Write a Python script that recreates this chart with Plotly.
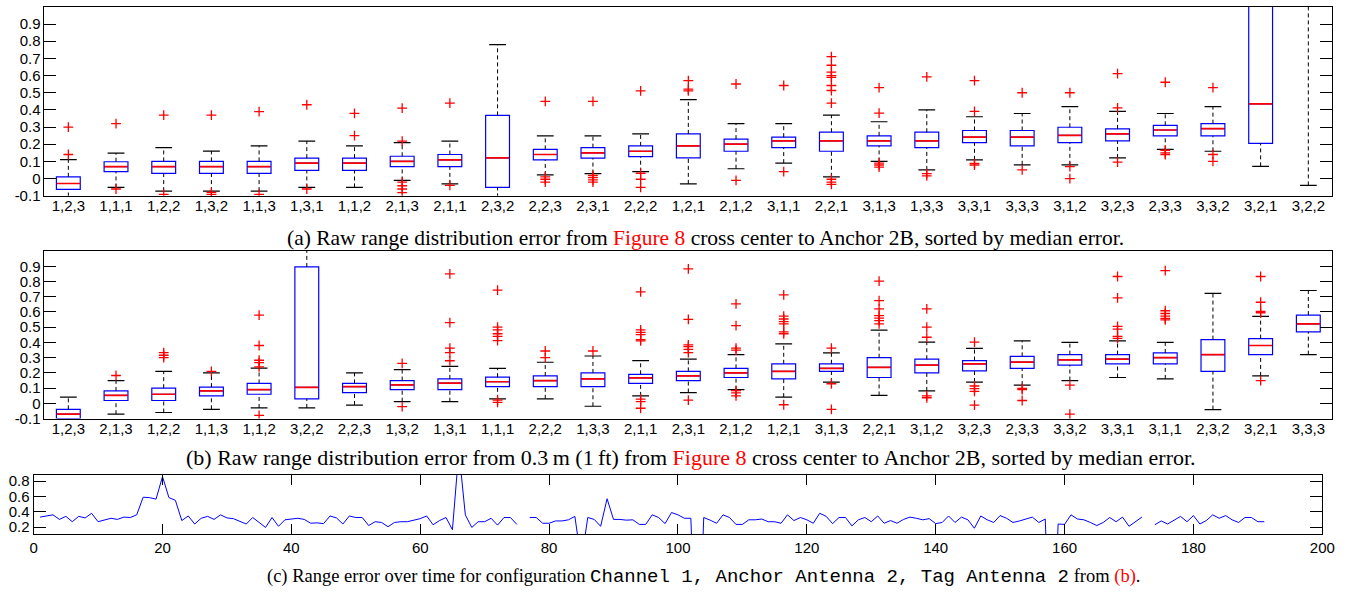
import plotly.graph_objects as go

# ---------------- Panel (a) ----------------
cats_a = ["1,2,3","1,1,1","1,2,2","1,3,2","1,1,3","1,3,1","1,1,2","2,1,3","2,1,1","2,3,2",
          "2,2,3","2,3,1","2,2,2","1,2,1","2,1,2","3,1,1","2,2,1","3,1,3","1,3,3","3,3,1",
          "3,3,3","3,1,2","3,2,3","2,3,3","3,3,2","3,2,1","3,2,2"]
q1_a  = [-0.063,0.04,0.03,0.03,0.03,0.048,0.048,0.069,0.069,-0.052,0.109,0.119,0.128,0.12,0.159,
         0.18,0.159,0.19,0.18,0.209,0.19,0.209,0.22,0.249,0.249,0.205,1.2]
med_a = [-0.029,0.07,0.07,0.07,0.07,0.09,0.09,0.1,0.109,0.12,0.14,0.149,0.159,0.19,0.2,
         0.22,0.22,0.22,0.22,0.241,0.241,0.251,0.26,0.283,0.291,0.435,1.5]
q3_a  = [0.01,0.098,0.1,0.1,0.1,0.119,0.119,0.13,0.14,0.368,0.17,0.18,0.19,0.26,0.23,
         0.241,0.27,0.249,0.27,0.28,0.28,0.299,0.289,0.31,0.32,1.15,1.8]
lo_a  = [-0.105,-0.052,-0.073,-0.073,-0.073,-0.052,-0.052,-0.011,-0.031,-0.11,0.021,0.029,0.04,-0.031,0.057,
         0.09,0.01,0.1,0.05,0.109,0.08,0.08,0.12,0.17,0.159,0.071,-0.04]
hi_a  = [0.11,0.148,0.18,0.16,0.19,0.218,0.19,0.209,0.218,0.78,0.249,0.249,0.26,0.46,0.32,
         0.32,0.37,0.331,0.40,0.36,0.379,0.419,0.391,0.379,0.419,1.3,2.0]
out_a_x = (["1,2,3"]*2 + ["1,1,1"]*2 + ["1,2,2"]*2 + ["1,3,2"]*3 + ["1,1,3"]*2 + ["1,3,1"]*2 +
           ["1,1,2"]*2 + ["2,1,3"]*6 + ["2,1,1"]*2 + ["2,2,3"]*4 + ["2,3,1"]*5 + ["2,2,2"]*4 +
           ["1,2,1"]*3 + ["2,1,2"]*2 + ["3,1,1"]*2 + ["2,2,1"]*11 + ["3,1,3"]*5 + ["1,3,3"]*3 +
           ["3,3,1"]*4 + ["3,3,3"]*2 + ["3,1,2"]*3 + ["3,2,3"]*3 + ["2,3,3"]*4 + ["3,3,2"]*3)
out_a_y = [0.30,0.14, 0.32,-0.061, 0.37,-0.092, 0.37,-0.08,-0.092, 0.39,-0.092, 0.43,-0.061,
           0.38,0.25, 0.41,0.218,-0.021,-0.042,-0.061,-0.082, 0.44,-0.04, 0.45,0.01,-0.004,-0.021,
           0.45,0.019,0.006,-0.008,-0.021, 0.511,0.031,-0.004,-0.052, 0.571,0.521,0.511,
           0.551,-0.011, 0.542,0.04, 0.71,0.66,0.62,0.60,0.59,0.542,0.513,0.44,-0.004,-0.021,-0.034,
           0.53,0.381,0.09,0.079,0.067, 0.592,0.029,0.015, 0.571,0.391,0.088,0.079, 0.5,0.05,
           0.5,0.069,0.0, 0.611,0.412,0.096, 0.561,0.165,0.149,0.14, 0.53,0.14,0.1]

# ---------------- Panel (b) ----------------
cats_b = ["1,2,3","2,1,3","1,2,2","1,1,3","1,1,2","3,2,2","2,2,3","1,3,2","1,3,1","1,1,1",
          "2,2,2","1,3,3","2,1,1","2,3,1","2,1,2","1,2,1","3,1,3","2,2,1","3,1,2","3,2,3",
          "2,3,3","3,3,2","3,3,1","3,1,1","2,3,2","3,2,1","3,3,3"]
q1_b  = [-0.1,0.019,0.019,0.049,0.06,0.03,0.071,0.09,0.09,0.11,0.11,0.11,0.131,0.15,0.17,
         0.161,0.21,0.17,0.2,0.213,0.23,0.251,0.26,0.26,0.21,0.32,0.47]
med_b = [-0.071,0.052,0.06,0.082,0.09,0.105,0.11,0.122,0.133,0.142,0.15,0.161,0.167,0.18,0.2,
         0.21,0.23,0.236,0.251,0.26,0.271,0.286,0.29,0.3,0.32,0.38,0.522]
q3_b  = [-0.039,0.082,0.1,0.107,0.131,0.896,0.131,0.15,0.161,0.172,0.18,0.2,0.191,0.21,0.23,
         0.26,0.26,0.3,0.29,0.281,0.309,0.32,0.32,0.331,0.419,0.425,0.58]
lo_b  = [-0.12,-0.071,-0.06,-0.039,-0.03,-0.03,-0.011,0.011,0.011,0.03,0.03,-0.019,0.049,0.071,0.09,
         0.041,0.14,0.052,0.082,0.14,0.12,0.15,0.17,0.161,-0.041,0.18,0.32]
hi_b  = [0.041,0.15,0.21,0.2,0.232,1.2,0.2,0.221,0.243,0.23,0.27,0.311,0.281,0.29,0.32,
         0.391,0.331,0.481,0.402,0.361,0.41,0.4,0.41,0.4,0.722,0.571,0.741]
out_b_x = (["2,1,3"]*1 + ["1,2,2"]*3 + ["1,1,3"]*1 + ["1,1,2"]*6 + ["1,3,2"]*2 + ["1,3,1"]*5 +
           ["1,1,1"]*8 + ["2,2,2"]*2 + ["1,3,3"]*1 + ["2,1,1"]*9 + ["2,3,1"]*7 + ["2,1,2"]*7 +
           ["1,2,1"]*8 + ["3,1,3"]*3 + ["2,2,1"]*7 + ["3,1,2"]*5 + ["3,2,3"]*5 + ["2,3,3"]*3 +
           ["3,3,2"]*2 + ["3,3,1"]*6 + ["3,1,1"]*6 + ["3,2,1"]*5)
out_b_y = [0.183, 0.333,0.316,0.3, 0.21, 0.58,0.38,0.283,0.268,0.24,-0.079, 0.262,-0.021,
           0.85,0.53,0.363,0.333,0.28, 0.743,0.5,0.483,0.457,0.44,0.412,0.021,0.006, 0.344,0.3,
           0.344, 0.732,0.483,0.466,0.451,0.419,0.41,0.028,0.011,-0.032,
           0.883,0.552,0.384,0.372,0.354,0.333,0.021, 0.653,0.511,0.363,0.35,0.084,0.069,0.049,
           0.713,0.573,0.554,0.537,0.522,0.47,0.457,-0.009, 0.363,0.129,-0.039,
           0.803,0.674,0.62,0.576,0.56,0.543,0.522, 0.621,0.5,0.434,0.049,0.037,
           0.402,0.114,0.097,0.079,-0.011, 0.099,0.09,0.019, 0.12,-0.071,
           0.833,0.692,0.505,0.488,0.44,0.427, 0.872,0.608,0.59,0.573,0.558,0.548,
           0.833,0.664,0.604,0.595,0.15]

box_ticks = [-0.1,0,0.1,0.2,0.3,0.4,0.5,0.6,0.7,0.8,0.9]
box_ticktext = ["-0.1","0","0.1","0.2","0.3","0.4","0.5","0.6","0.7","0.8","0.9"]

# ---------------- Panel (c) ----------------
time_idx = list(range(1, 192))
range_err = [0.33,0.35,0.36,0.30,0.34,0.27,0.34,0.32,0.38,0.27,
             0.29,0.315,0.30,0.33,0.325,0.36,0.59,0.585,0.565,0.86,
             0.585,0.55,0.285,0.345,0.24,0.315,0.34,0.30,0.36,0.32,
             0.31,0.28,0.24,0.325,0.265,0.195,0.325,0.21,0.295,0.305,
             0.315,0.30,0.25,0.255,0.245,0.345,0.32,0.24,0.345,0.325,
             0.325,0.22,0.27,0.26,0.205,0.26,0.27,0.27,0.285,0.31,
             0.345,0.23,0.285,0.325,0.165,1.2,0.36,0.195,0.27,0.27,
             0.315,0.225,0.325,0.325,0.235,None,0.325,0.325,0.25,0.25,
             0.28,0.28,0.295,0.34,-0.25,0.325,0.30,0.21,0.57,0.30,
             0.30,0.29,0.295,0.235,0.235,0.36,0.325,0.245,0.39,0.36,
             0.315,0.315,-2.0,0.325,0.29,0.25,0.36,0.325,0.235,0.235,
             0.295,0.295,0.305,0.27,0.27,0.25,0.36,0.285,0.325,0.295,
             0.25,0.38,0.34,0.245,0.325,0.325,0.215,0.295,0.325,0.27,
             0.345,0.25,0.285,0.25,0.30,0.33,0.315,0.295,0.31,0.245,
             0.26,0.345,0.26,0.33,0.295,0.185,0.345,0.295,0.26,0.35,
             0.315,0.26,0.28,0.30,0.33,0.26,0.305,-2.0,0.24,0.235,
             0.36,0.305,0.295,0.26,0.22,0.26,0.325,0.27,0.33,0.21,
             0.27,0.33,None,0.23,0.28,0.24,0.295,0.34,0.27,0.35,
             0.24,0.285,0.36,0.315,0.35,0.295,0.26,0.325,0.325,0.27,0.27]
line_xticks = [0,20,40,60,80,100,120,140,160,180,200]
line_yticks = [0.2,0.4,0.6,0.8]

MONO = '<span style="font-family:Liberation Mono;font-size:19px">'
captions = [
    '(a) Raw range distribution error from <span style="color:red">Figure 8</span> cross center to Anchor 2B, sorted by median error.',
    '(b) Raw range distribution error from 0.3\u2009m (1\u2009ft) from <span style="color:red">Figure 8</span> cross center to Anchor 2B, sorted by median error.',
    '(c) Range error over time for configuration ' + MONO + 'Channel 1, Anchor Antenna 2, Tag Antenna 2</span> from <span style="color:red">(b)</span>.',
]
caption_sizes = [21.5, 22, 18.5]

W, H = 1359, 598
fig = go.Figure()

def add_box_panel(cats, q1, med, q3, lo, hi, ox, oy, xa, ya):
    wx, wy = [], []
    for c, a, b, l, h in zip(cats, q1, q3, lo, hi):
        wx += [c, c, None, c, c, None]
        wy += [b, h, None, l, a, None]
    fig.add_trace(go.Scatter(x=wx, y=wy, mode="lines", xaxis=xa, yaxis=ya,
                             line=dict(color="black", width=1, dash="4px,3px"), hoverinfo="skip"))
    fig.add_trace(go.Box(x=cats, q1=q1, median=med, q3=q3, lowerfence=q1, upperfence=q3,
                         width=0.5, whiskerwidth=0, xaxis=xa, yaxis=ya,
                         line=dict(color="#0000ff", width=1.2), fillcolor="rgba(255,255,255,0)",
                         hoverinfo="skip"))
    fig.add_trace(go.Box(x=cats, q1=med, median=med, q3=med, lowerfence=med, upperfence=med,
                         width=0.48, whiskerwidth=0, xaxis=xa, yaxis=ya,
                         line=dict(color="#ff0000", width=1.7), fillcolor="rgba(255,255,255,0)",
                         hoverinfo="skip"))
    fig.add_trace(go.Scatter(x=list(cats) + list(cats), y=list(hi) + list(lo), mode="markers",
                             xaxis=xa, yaxis=ya, hoverinfo="skip",
                             marker=dict(symbol="line-ew", size=12, color="black",
                                         line=dict(color="black", width=1.2))))
    fig.add_trace(go.Scatter(x=ox, y=oy, mode="markers", xaxis=xa, yaxis=ya, hoverinfo="skip",
                             marker=dict(symbol="cross-thin", size=7, color="#ff0000",
                                         line=dict(color="#ff0000", width=1.3))))

add_box_panel(cats_a, q1_a, med_a, q3_a, lo_a, hi_a, out_a_x, out_a_y, "x", "y")
add_box_panel(cats_b, q1_b, med_b, q3_b, lo_b, hi_b, out_b_x, out_b_y, "x2", "y2")

fig.add_trace(go.Scatter(x=time_idx, y=range_err, mode="lines", xaxis="x3", yaxis="y3",
                         line=dict(color="#0000ff", width=1), hoverinfo="skip", connectgaps=False))

tickfont = dict(family="Liberation Sans, Arial, sans-serif", size=15, color="black")
common = dict(showline=True, linecolor="black", linewidth=1, mirror="ticks", showgrid=False,
              zeroline=False, tickfont=tickfont, tickcolor="black", tickwidth=1)

xd_box = [41 / W, 1345 / W]
fig.update_layout(
    width=W, height=H, margin=dict(l=0, r=0, t=0, b=0),
    paper_bgcolor="white", plot_bgcolor="white", showlegend=False, boxmode="overlay",
    xaxis=dict(domain=xd_box, anchor="y", type="category", categoryorder="array",
               categoryarray=cats_a, range=[-0.5, 26.5], ticks="", ticklabelstandoff=-4, **common),
    yaxis=dict(domain=[1 - 197 / H, 1 - 5 / H], anchor="x", range=[-0.1, 1.0],
               tickvals=box_ticks, ticktext=box_ticktext, ticks="inside", ticklen=12, **common),
    xaxis2=dict(domain=xd_box, anchor="y2", type="category", categoryorder="array",
                categoryarray=cats_b, range=[-0.5, 26.5], ticks="", ticklabelstandoff=-4, **common),
    yaxis2=dict(domain=[1 - 423.7 / H, 1 - 253.3 / H], anchor="x2", range=[-0.1, 1.0],
                tickvals=box_ticks, ticktext=box_ticktext, ticks="inside", ticklen=12, **common),
    xaxis3=dict(domain=[30 / W, 1335 / W], anchor="y3", range=[0, 200],
                tickvals=line_xticks, ticks="inside", ticklen=10, **common),
    yaxis3=dict(domain=[1 - 541 / H, 1 - 480.7 / H], anchor="x3", range=[0.11, 0.885],
                tickvals=line_yticks, ticks="inside", ticklen=12, **common),
)

for txt, fs, cx, cy in zip(captions, caption_sizes, [710, 696, 708], [240, 463, 585]):
    fig.add_annotation(text=txt, xref="paper", yref="paper", x=cx / W, y=1 - cy / H,
                       xanchor="center", yanchor="middle", showarrow=False,
                       font=dict(family="Liberation Serif, Times New Roman, serif", size=fs,
                                 color="black"))

fig.write_html("out.html")
